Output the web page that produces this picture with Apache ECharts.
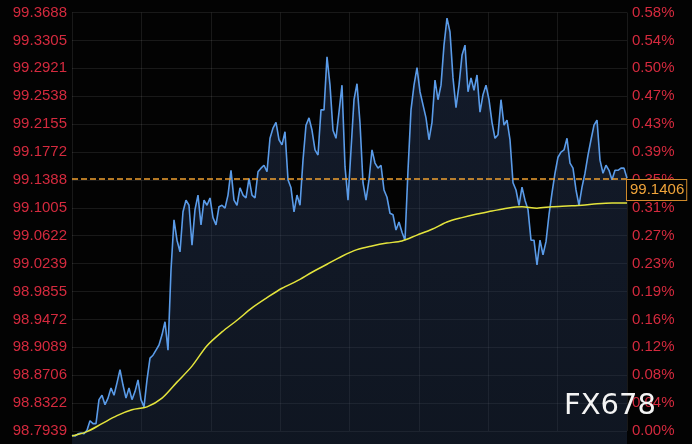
<!DOCTYPE html>
<html><head><meta charset="utf-8">
<script src="https://cdn.jsdelivr.net/npm/echarts@6/dist/echarts.min.js"></script>
<style>html,body{margin:0;padding:0;background:#030303}#c{width:692px;height:444px}</style>
</head><body><div id="c"></div>
<script>
const priceLabels = ['98.7939','98.8322','98.8706','98.9089','98.9472','98.9855','99.0239','99.0622','99.1005','99.1388','99.1772','99.2155','99.2538','99.2921','99.3305','99.3688'];
const pctLabels = ['0.00%','0.04%','0.08%','0.12%','0.16%','0.19%','0.23%','0.27%','0.31%','0.35%','0.39%','0.43%','0.47%','0.50%','0.54%','0.58%'];
const price = [
98.788,98.787,98.790,98.791,98.790,98.795,98.808,98.804,98.804,98.837,
98.843,98.830,98.839,98.853,98.843,98.860,98.878,98.857,98.839,98.853,
98.837,98.848,98.864,98.837,98.827,98.864,98.894,98.898,98.905,98.912,
98.926,98.944,98.905,99.015,99.084,99.056,99.040,99.095,99.111,99.104,
99.049,99.098,99.118,99.077,99.111,99.104,99.114,99.087,99.077,99.102,
99.104,99.100,99.118,99.152,99.111,99.104,99.128,99.118,99.114,99.141,
99.118,99.114,99.150,99.155,99.159,99.150,99.196,99.210,99.218,99.194,
99.187,99.205,99.139,99.128,99.095,99.118,99.104,99.166,99.214,99.224,
99.207,99.180,99.173,99.235,99.235,99.308,99.269,99.207,99.196,99.232,
99.269,99.157,99.111,99.180,99.249,99.271,99.217,99.135,99.111,99.139,
99.180,99.162,99.155,99.159,99.125,99.115,99.093,99.091,99.070,99.081,
99.067,99.056,99.152,99.235,99.269,99.293,99.260,99.242,99.224,99.194,
99.218,99.276,99.249,99.269,99.324,99.361,99.342,99.279,99.238,99.269,
99.310,99.324,99.260,99.279,99.262,99.283,99.232,99.256,99.269,99.249,
99.218,99.196,99.201,99.249,99.214,99.221,99.194,99.135,99.125,99.104,
99.129,99.111,99.098,99.056,99.056,99.022,99.056,99.036,99.054,99.091,
99.121,99.148,99.170,99.177,99.180,99.196,99.162,99.155,99.125,99.104,
99.129,99.148,99.173,99.194,99.214,99.221,99.166,99.148,99.159,99.152,
99.139,99.152,99.152,99.155,99.155,99.141];
const movingAvg = [
98.787,98.793,98.804,98.815,98.823,98.827,98.839,98.861,98.883,98.911,
98.930,98.946,98.963,98.977,98.990,99.000,99.012,99.023,99.034,99.043,
99.048,99.052,99.055,99.063,99.071,99.081,99.087,99.092,99.096,99.100,
99.102,99.100,99.102,99.103,99.104,99.106,99.107,99.107];
const lastPrice = 99.1406;
const axisMin = 98.7760, axisMax = 99.3860;

const FONT = '"Liberation Sans", Arial, sans-serif';
const RED = '#d42a3e', GRAY = '#a8a8a8';
const ORANGE = '#f0a030';
const chart = echarts.init(document.getElementById('c'), null, {renderer: 'canvas'});
const grid = 'rgba(255,255,255,0.09)';
chart.setOption({
  backgroundColor: '#030303',
  animation: false,
  grid: [
    {left: 72, right: 65, top: 12.5, bottom: 13},
    {left: 72, right: 65, top: 0, bottom: 0}
  ],
  xAxis: [
    {gridIndex: 0, type: 'value', min: 0, max: 8, interval: 1, z: 3,
     axisLine: {show: false}, axisTick: {show: false}, axisLabel: {show: false},
     splitLine: {show: true, lineStyle: {color: grid, width: 1}}},
    {gridIndex: 1, type: 'category', show: false, boundaryGap: false, data: price.map((_, i) => i)},
    {gridIndex: 1, type: 'category', show: false, boundaryGap: false, data: movingAvg.map((_, i) => i)}
  ],
  yAxis: [
    {gridIndex: 0, type: 'value', min: 0, max: 15, interval: 1, position: 'left', z: 3,
     axisLine: {show: false}, axisTick: {show: false},
     axisLabel: {margin: 5, fontSize: 15, fontFamily: FONT,
       color: (v, i) => (v === 0 ? GRAY : RED),
       formatter: v => priceLabels[v]},
     splitLine: {show: true, lineStyle: {color: grid, width: 1}}},
    {gridIndex: 0, type: 'value', min: 0, max: 15, interval: 1, position: 'right', z: 0,
     axisLine: {show: false}, axisTick: {show: false},
     axisLabel: {margin: 5, fontSize: 15, fontFamily: FONT,
       color: (v, i) => (v === 0 ? GRAY : RED),
       formatter: v => pctLabels[v]},
     splitLine: {show: false}},
    {gridIndex: 1, type: 'value', min: axisMin, max: axisMax, show: false, splitLine: {show: false}}
  ],
  series: [
    {type: 'line', xAxisIndex: 1, yAxisIndex: 2, data: price, showSymbol: false, symbol: 'none',
     lineStyle: {color: '#5a9be8', width: 1.6},
     areaStyle: {origin: 'start', color: new echarts.graphic.LinearGradient(0, 0, 0, 1, [
       {offset: 0, color: 'rgba(45,65,105,0.55)'}, {offset: 1, color: 'rgba(35,52,82,0.55)'}])}},
    {type: 'line', xAxisIndex: 2, yAxisIndex: 2, data: movingAvg, showSymbol: false, symbol: 'none',
     smooth: 0.3, lineStyle: {color: '#e4e43c', width: 1.5}, z: 4,
     markLine: {silent: true, symbol: ['none', 'none'], animation: false, z: 10,
       data: [{yAxis: lastPrice}],
       lineStyle: {color: ORANGE, type: 'dashed', width: 1.5, opacity: 1},
       emphasis: {disabled: true},
       label: {show: true, position: 'end', distance: 0, offset: [0, 11],
         formatter: () => lastPrice.toFixed(4),
         color: '#f0a43a', fontSize: 15, fontFamily: FONT,
         backgroundColor: '#050505', borderColor: '#d08a2a', borderWidth: 1,
         padding: [3, 2, 2, 3]}}}
  ],
  graphic: [
    {type: 'text', left: 564, top: 392, z: 100,
     style: {text: 'FX678', fill: '#f4f4f4', font: '29px "DejaVu Sans", sans-serif'}}
  ]
});
</script>
</body></html>
